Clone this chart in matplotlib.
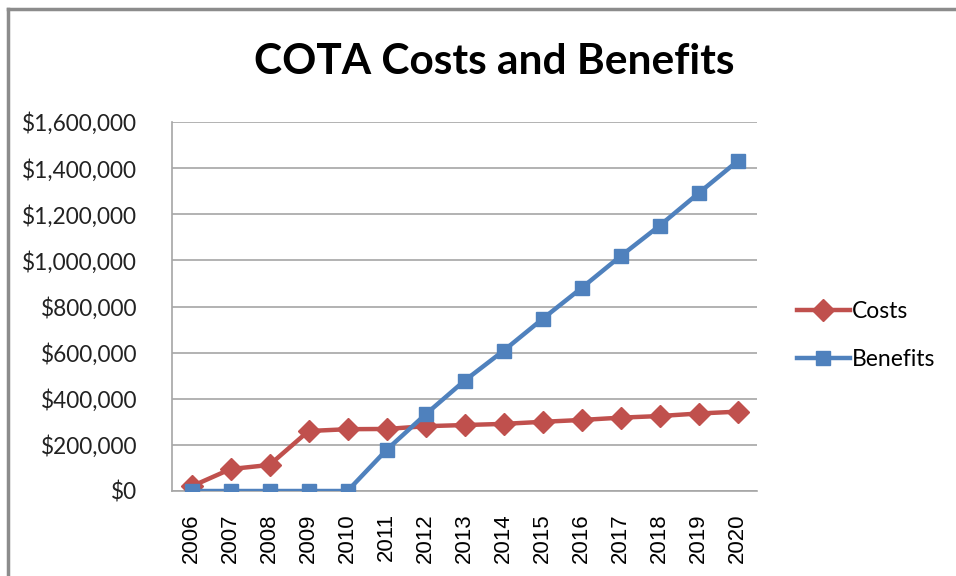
import matplotlib
matplotlib.use("Agg")
import matplotlib.pyplot as plt
from matplotlib.lines import Line2D
from matplotlib.ticker import FuncFormatter, MultipleLocator

years = [str(y) for y in range(2006, 2021)]
costs = [20000, 95000, 113000, 260000, 268000, 269000, 281000, 286000,
         291000, 300000, 308000, 318000, 325000, 336000, 344000]
benefits = [0, 0, 0, 0, 0, 178000, 332000, 478000,
            608000, 746000, 880000, 1018000, 1150000, 1291000, 1430000]

red = "#C0504D"
blue = "#4F81BD"

fig = plt.figure(figsize=(9.56, 5.76), dpi=100)
ax = fig.add_axes([172 / 956, 1 - 491 / 576, (757 - 172) / 956, (491 - 122) / 576])

x = list(range(len(years)))
ax.plot(x, costs, color=red, lw=3.2, marker="D", ms=11, label="Costs", zorder=3)
ax.plot(x, benefits, color=blue, lw=3.2, marker="s", ms=10, label="Benefits", zorder=4)

ax.set_xlim(-0.5, len(years) - 0.5)
ax.set_ylim(0, 1600000)
ax.yaxis.set_major_locator(MultipleLocator(200000))
ax.yaxis.set_major_formatter(FuncFormatter(lambda v, p: "${:,.0f}".format(v)))
ax.set_xticks(x)
ax.set_xticklabels(years, rotation=90, family="Liberation Sans", fontsize=16)
for lab in ax.get_yticklabels():
    lab.set_family("Lato")
    lab.set_fontsize(16.3)
    lab.set_color("#222222")

ax.tick_params(axis="both", length=0)
ax.tick_params(axis="y", pad=25)
ax.tick_params(axis="x", pad=16)

ax.grid(axis="y", color="#A6A6A6", lw=1.2)
ax.set_axisbelow(True)
for side in ["top", "right"]:
    ax.spines[side].set_visible(False)
for side in ["left", "bottom"]:
    ax.spines[side].set_color("#A6A6A6")
    ax.spines[side].set_linewidth(1.2)

fig.text(494 / 956, 1 - 62 / 576, "COTA Costs and Benefits", ha="center", va="center",
         family="Lato", fontweight="bold", fontsize=30.5)

ax.legend(loc="center left", bbox_to_anchor=(797 / 956, 1 - 335.5 / 576),
          bbox_transform=fig.transFigure, frameon=False, borderpad=0, borderaxespad=0,
          handlelength=2.3, handletextpad=0.1, labelspacing=1.15,
          prop={"family": "Lato", "size": 16.5})

# outer chart border
fig.add_artist(Line2D([8 / 956, 1], [1 - 9 / 576, 1 - 9 / 576], color="#8C8C8C", lw=2.5))
fig.add_artist(Line2D([8 / 956, 8 / 956], [0, 1 - 9 / 576], color="#8C8C8C", lw=2.5))

fig.savefig("out.png", dpi=100)
